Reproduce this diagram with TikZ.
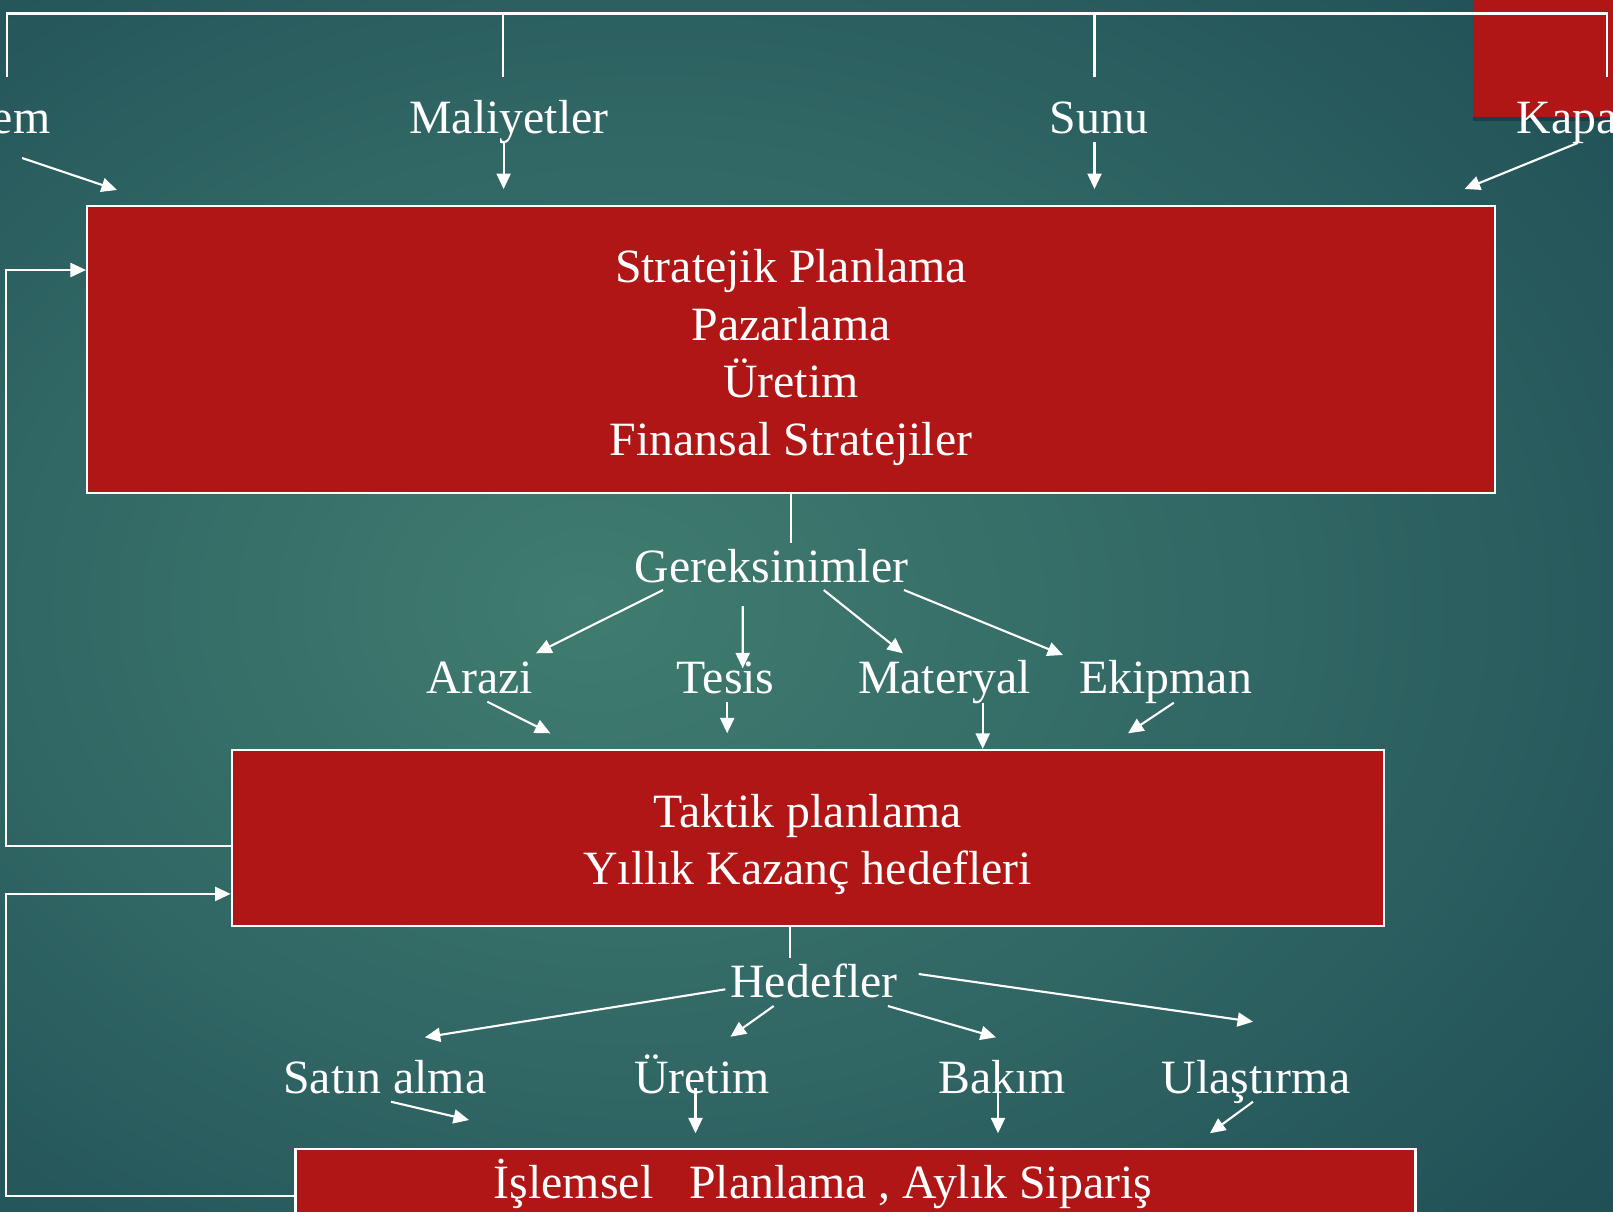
\documentclass[tikz,border=0pt]{standalone}
\usepackage{fontspec}
\setmainfont{Liberation Serif}
\usetikzlibrary{arrows.meta, calc}
\definecolor{boxred}{RGB}{175, 22, 21}
\definecolor{glowin}{RGB}{64, 124, 111}
\definecolor{glowmid}{RGB}{48, 102, 100}
\definecolor{glowedge}{RGB}{30, 76, 84}
\definecolor{glowrim}{RGB}{24, 64, 76}
\definecolor{glowout}{RGB}{20, 55, 70}
\pgfdeclareradialshading{slidebg}{\pgfpoint{-7bp}{0bp}}{color(0bp)=(glowin); color(20bp)=(glowmid); color(40bp)=(glowedge); color(55bp)=(glowrim); color(72bp)=(glowout)}

\begin{document}
\begin{tikzpicture}[x=0.1mm, y=-0.1mm,
  wire/.style={draw=white, line width=0.6pt},
  arr/.style={wire, -{Triangle[length=4.4pt, width=4pt]}},
  box/.style={draw=white, line width=0.6pt, fill=boxred, inner sep=0pt},
  lbl/.style={text=white, font=\fontsize{13.6}{16.3}\selectfont, inner sep=0pt}]
  \useasboundingbox (0, 0) rectangle (1613, 1211);
  \clip (0, 0) rectangle (1613, 1211);
  \shade[shading=slidebg] (0, 0) rectangle (1613, 1211);
  \fill[black, opacity=0.25] (1473, 0) rectangle (1617, 121);
  \fill[boxred] (1473, 0) rectangle (1613, 117);
  \draw[wire] (7, 77) |- (1607, 13.5) -- (1607, 77);
  \draw[wire] (503, 13.5) -- (503, 77);
  \draw[wire] (1094.5, 13.5) -- (1094.5, 77);

  \node[lbl, anchor=base east] (em) at (51, 133) {em};
  \node[lbl, anchor=base] (mal) at (509, 133) {Maliyetler};
  \node[lbl, anchor=base] (sunu) at (1099, 133) {Sunu};
  \node[lbl, anchor=base west] (kapa) at (1516, 133) {Kapa};

  \node[box, minimum width=140.8mm, minimum height=28.7mm] (b1) at (791, 349.5) {};
  \node[lbl, align=center, anchor=north, font=\fontsize{13.6}{16.33}\selectfont] (t1) at (791, 249)
    {Stratejik Planlama\\Pazarlama\\Üretim\\Finansal Stratejiler};

  \draw[arr] ($(em.base)+(1, 25)$) -- ($(b1.north west)+(31, -15)$);
  \draw[arr] ($(mal.base)+(-5.4, 9)$) -- ++(0, 47);
  \draw[arr] ($(sunu.base)+(-4.5, 9)$) -- ++(0, 47);
  \draw[arr] ($(kapa.base)+(10.5, 10)$) -- ($(b1.north east)+(-31.4, -16)$);

  \node[lbl, anchor=base] (gerek) at (771.5, 582) {Gereksinimler};
  \draw[wire] (b1.south) -- ++(0, 49);

  \node[lbl, anchor=base] (arazi) at (480, 693) {Arazi};
  \node[lbl, anchor=base] (tesis) at (725.7, 693) {Tesis};
  \node[lbl, anchor=base] (materyal) at (944.4, 693) {Materyal};
  \node[lbl, anchor=base] (ekipman) at (1165.6, 693) {Ekipman};

  \draw[arr] ($(gerek.base)+(-108.5, 8)$) -- ($(arazi.base)+(56, -39.7)$);
  \draw[arr] ($(gerek.base)+(-28.8, 24)$) -- ($(tesis.base)+(17, -24.7)$);
  \draw[arr] ($(gerek.base)+(52.2, 8)$) -- ($(materyal.base)+(-41.5, -39.7)$);
  \draw[arr] ($(gerek.base)+(132.5, 8)$) -- ($(ekipman.base)+(-102.6, -38)$);

  \node[box, minimum width=115.2mm, minimum height=17.6mm] (b2) at (807.6, 837.9) {};
  \node[lbl, align=center, anchor=north, font=\fontsize{13.6}{16.33}\selectfont] (t2) at (807.5, 793.4)
    {Taktik planlama\\Yıllık Kazanç hedefleri};

  \draw[arr] ($(arazi.base)+(7.3, 8.7)$) -- ($(arazi.base)+(70.4, 40.3)$);
  \draw[arr] ($(tesis.base)+(1.5, 8.7)$) -- ++(0, 31.6);
  \draw[arr] ($(materyal.base)+(38.3, 9.7)$) coordinate (m1) -- (m1 |- b2.north);
  \draw[arr] ($(ekipman.base)+(8.2, 9.7)$) -- ($(ekipman.base)+(-37.6, 40.3)$);

  \node[lbl, anchor=base] (hedef) at (814, 997) {Hedefler};
  \draw[wire] ($(b2.south)+(-17.6, 0)$) -- ++(0, 31);

  \node[lbl, anchor=base] (satin) at (384.8, 1093.3) {Satın alma};
  \node[lbl, anchor=base] (uretim) at (702, 1093.3) {Üretim};
  \node[lbl, anchor=base] (bakim) at (1002, 1093.3) {Bakım};
  \node[lbl, anchor=base] (ulas) at (1256, 1093.3) {Ulaştırma};

  \draw[arr] ($(hedef.base)+(-88.7, -7.7)$) -- ($(satin.base)+(40, -56)$);
  \draw[arr] ($(hedef.base)+(-40.3, 9)$) -- ($(uretim.base)+(28.5, -56.6)$);
  \draw[arr] ($(hedef.base)+(73.9, 9)$) -- ($(bakim.base)+(-6, -56)$);
  \draw[arr] ($(hedef.base)+(104.7, -23)$) -- ($(ulas.base)+(-3, -71.6)$);

  \node[box, minimum width=112mm, minimum height=13.1mm] (b3) at (855.5, 1214.7) {};
  \node[lbl, anchor=base] (t3) at (823, 1198) {İşlemsel\hspace{0.75em}Planlama , Aylık Sipariş};

  \draw[arr] ($(satin.base)+(6.2, 8.4)$) -- ($(satin.base)+(84.2, 26.7)$);
  \draw[arr] ($(uretim.base)+(-6.5, -5.3)$) -- ++(0, 45.3);
  \draw[arr] ($(bakim.base)+(-4, -5.3)$) -- ++(0, 45.3);
  \draw[arr] ($(ulas.base)+(-3, 8.4)$) -- ($(ulas.base)+(-46.1, 40)$);

  \draw[arr] ($(b2.west)+(0, 8)$) -| ($(b1.west)+(-80, -79.5)$) -- ($(b1.west)+(0, -79.5)$);
  \draw[arr] ($(b3.north west)+(0, 47.4)$) -| ($(b2.west)+(-224.5, 56)$) -- ($(b2.west)+(0, 56)$);
\end{tikzpicture}
\end{document}
